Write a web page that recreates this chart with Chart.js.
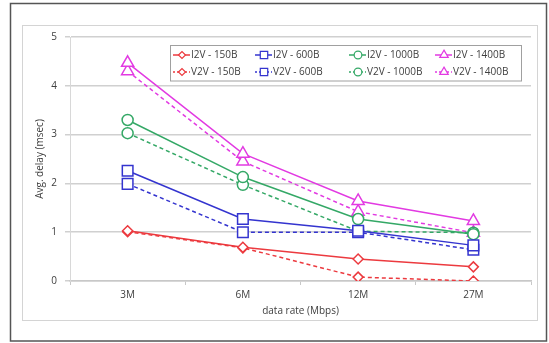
<!DOCTYPE html>
<html>
<head>
<meta charset="utf-8">
<script src="https://cdn.jsdelivr.net/npm/chart.js@4"></script>
<style>
  html, body { margin: 0; padding: 0; background: #fff; }
  canvas { display: block; }
</style>
</head>
<body>
<canvas id="delayChart" width="549" height="343"></canvas>
<script>
// Values
const categories = ["3M", "6M", "12M", "27M"];
const yTicks = [0, 1, 2, 3, 4, 5];

const i2v150 = [1.03, 0.69, 0.45, 0.29];
const v2v150 = [1.01, 0.68, 0.08, 0.00];
const i2v600 = [2.26, 1.27, 1.03, 0.73];
const v2v600 = [1.99, 1.00, 1.00, 0.64];
const i2v1000 = [3.30, 2.13, 1.27, 0.96];
const v2v1000 = [3.03, 1.97, 1.02, 0.99];
const i2v1400 = [4.47, 2.61, 1.64, 1.23];
const v2v1400 = [4.30, 2.45, 1.42, 0.99];

const seriesNames = [
  "I2V - 150B", "V2V - 150B", "I2V - 600B", "V2V - 600B",
  "I2V - 1000B", "V2V - 1000B", "I2V - 1400B", "V2V - 1400B"
];
const seriesData = [i2v150, v2v150, i2v600, v2v600, i2v1000, v2v1000, i2v1400, v2v1400];

const colors = ["#ec3a3f", "#3434cf", "#34a866", "#e23ae2"];
const markers = ["rectRot", "rect", "circle", "triangle"];
const markerSize = [5, 7.5, 5.5, 7];

const FONT = "'Open Sans', 'DejaVu Sans', sans-serif";
const TEXT = "#404040";

function makeDataset(i) {
  const group = Math.floor(i / 2);
  const dashed = i % 2 === 1;
  return {
    label: seriesNames[i],
    data: seriesData[i],
    borderColor: colors[group],
    backgroundColor: "#ffffff",
    borderWidth: 1.5,
    borderDash: dashed ? [4, 3] : [],
    pointStyle: markers[group],
    pointRadius: markerSize[group],
    pointBorderWidth: 1.5,
    pointBackgroundColor: "#ffffff",
    pointBorderColor: colors[group],
    tension: 0
  };
}

// outer frame + inner chart frame
const framePlugin = {
  id: "frames",
  beforeDraw(chart) {
    const ctx = chart.ctx;
    ctx.save();
    ctx.fillStyle = "#fff";
    ctx.fillRect(0, 0, chart.width, chart.height);
    ctx.strokeStyle = "#555";
    ctx.lineWidth = 1.5;
    ctx.strokeRect(10.5, 3.5, 536, 337.5);
    ctx.strokeStyle = "#d4d4d4";
    ctx.lineWidth = 1;
    ctx.strokeRect(22.5, 25.5, 515, 295);
    ctx.restore();
  }
};

// legend: 4 columns x 2 rows, drawn inside the plot area
const legendPlugin = {
  id: "boxLegend",
  afterDatasetsDraw(chart) {
    const ctx = chart.ctx;
    const colX = [182, 264, 358, 444];
    const rowY = [55, 72];
    ctx.save();
    ctx.fillStyle = "#fff";
    ctx.fillRect(170, 45.5, 351.5, 35.5);
    ctx.strokeStyle = "#a0a0a0";
    ctx.lineWidth = 1;
    ctx.strokeRect(170.5, 45.5, 351, 35.5);
    ctx.font = "10px " + FONT;
    ctx.textBaseline = "middle";
    chart.data.datasets.forEach((ds, i) => {
      const cx = colX[Math.floor(i / 2)];
      const cy = rowY[i % 2];
      ctx.strokeStyle = ds.borderColor;
      ctx.lineWidth = 1.5;
      ctx.setLineDash(ds.borderDash.length ? [2, 2] : []);
      ctx.beginPath();
      ctx.moveTo(cx - 9, cy);
      ctx.lineTo(cx + 8, cy);
      ctx.stroke();
      ctx.setLineDash([]);
      ctx.fillStyle = "#fff";
      ctx.strokeStyle = ds.borderColor;
      ctx.lineWidth = 1.2;
      Chart.helpers.drawPoint(ctx, {
        pointStyle: ds.pointStyle,
        radius: ds.pointRadius * 0.7,
        rotation: 0,
        borderWidth: 1.2
      }, cx, cy);
      ctx.fillStyle = TEXT;
      ctx.fillText(ds.label, cx + 9, cy + 0.5);
    });
    ctx.restore();
  }
};

const ctx = document.getElementById("delayChart").getContext("2d");
const chart = new Chart(ctx, {
  type: "line",
  data: {
    labels: categories,
    datasets: seriesData.map((_, i) => makeDataset(i))
  },
  options: {
    responsive: false,
    animation: false,
    layout: {
      padding: { left: 22, top: 37, right: 18, bottom: 22 }
    },
    plugins: {
      legend: { display: false },
      tooltip: { enabled: false }
    },
    scales: {
      x: {
        offset: true,
        grid: {
          offset: true,
          drawOnChartArea: false,
          drawTicks: true,
          tickLength: 4,
          color: "#c8c8c8"
        },
        border: { display: true, color: "#c8c8c8", width: 1.5 },
        ticks: {
          color: TEXT,
          font: { family: FONT, size: 10 },
          padding: 4
        },
        title: {
          display: true,
          text: "data rate (Mbps)",
          color: TEXT,
          font: { family: FONT, size: 10 },
          padding: { top: 0, bottom: 4 }
        },
        afterFit(scale) { scale.height = 40; }
      },
      y: {
        min: 0,
        max: 5,
        afterBuildTicks(scale) {
          scale.ticks = yTicks.map(v => ({ value: v }));
        },
        grid: {
          color: "#d0d0d0",
          lineWidth: 1.5,
          tickLength: 5
        },
        border: { display: true, color: "#d8d8d8", width: 1 },
        ticks: {
          color: TEXT,
          font: { family: FONT, size: 10 },
          padding: 8
        },
        title: {
          display: true,
          text: "Avg. delay (msec)",
          color: TEXT,
          font: { family: FONT, size: 10 },
          padding: { top: 12, bottom: 0 }
        },
        afterFit(scale) { scale.width = 48; }
      }
    }
  },
  plugins: [framePlugin, legendPlugin]
});
</script>
</body>
</html>
